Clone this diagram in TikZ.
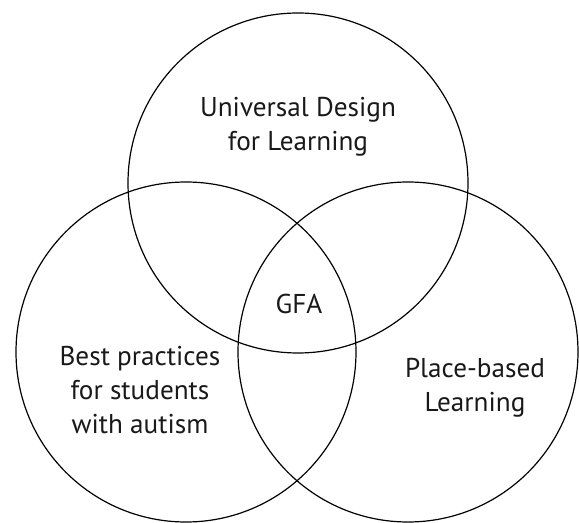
\documentclass[tikz,border=0pt]{standalone}
\usepackage{fontspec}
\setmainfont{PT Sans}
\usetikzlibrary{positioning}

\begin{document}
\begin{tikzpicture}[x=0.5pt, y=-0.5pt,
		set/.style={draw, circle, line width=0.6pt, minimum size=170pt, inner sep=0pt},
		settext/.style={align=center, font=\fontsize{13.6}{17}\selectfont, text=black!90}]
			\useasboundingbox (0,0) rectangle (579,523);
			% the three sets
			\node[set] (UDL) at (298,183) {};
			\node[set] (Autism) at (186,352) {};
			\node[set] (Place) at (408,352) {};
			% their names
			\node[settext] (UDLName) at (298,127) {Universal Design\\for Learning};
			\node[settext] (AutismName) at (140,390) {Best practices\\for students\\with autism};
			\node[settext] (PlaceName) at (475,388) {Place-based\\Learning};
			\node[settext] (Core) at (299,304) {GFA};
		\end{tikzpicture}
\end{document}
